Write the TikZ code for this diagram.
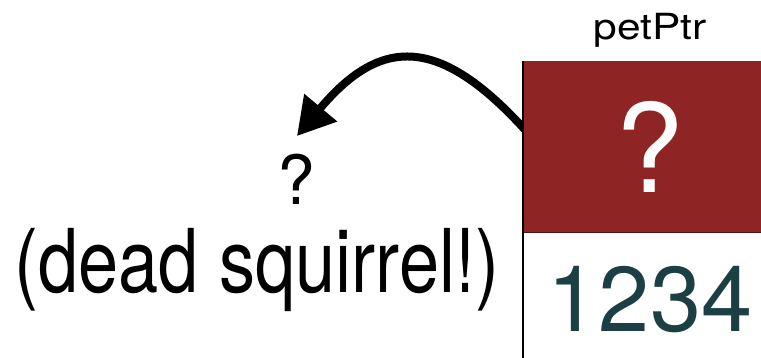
\documentclass[tikz,border=0pt]{standalone}
\usepackage{fontspec}
\setmainfont{TeX Gyre Heros}
\usetikzlibrary{arrows.meta}
\definecolor{ptrred}{HTML}{8F2424}
\definecolor{valteal}{HTML}{1B3F42}
\definecolor{sepline}{HTML}{4A1515}
\tikzset{
  lbl/.style={inner sep=0pt, anchor=base},
  bigarrow/.style={line width=8pt, -{Triangle[length=37pt,width=41pt]}},
}
\begin{document}
\begin{tikzpicture}[x=1pt,y=1pt]
\useasboundingbox (0,0) rectangle (761,358);
% arrow (under the box)
\coordinate (start) at (527,226);
\coordinate (tip) at (297,222);
\draw[bigarrow] (start) to[out=132,in=50,looseness=1.45] (tip);
% pointer cell
\node[fill=ptrred, minimum width=238pt, minimum height=171pt, inner sep=0pt, anchor=north west] (ptr) at (523,297) {};
\node[minimum width=238pt, minimum height=126pt, inner sep=0pt, anchor=north west] (val) at (523,126) {};
\draw[sepline, line width=1pt] (ptr.south west) -- (ptr.south east);
\draw[black, line width=1.3pt] (ptr.north west) -- (val.south west);
% texts
\node[lbl, font=\fontsize{36}{40}\selectfont] (name) at (650,318) {\scalebox{1.18}[1]{petPtr}};
\node[lbl, text=white, font=\fontsize{123}{130}\selectfont] (q) at (650,165) {?};
\node[lbl, text=valteal, font=\fontsize{92}{100}\selectfont] (num) at (650,26) {1234};
\node[lbl, font=\fontsize{68}{72}\selectfont] (lq) at (296,153) {?};
\node[lbl, font=\fontsize{88}{92}\selectfont] (dead) at (257,65) {\scalebox{0.82}[1]{(dead squirrel!)}};
\end{tikzpicture}
\end{document}
